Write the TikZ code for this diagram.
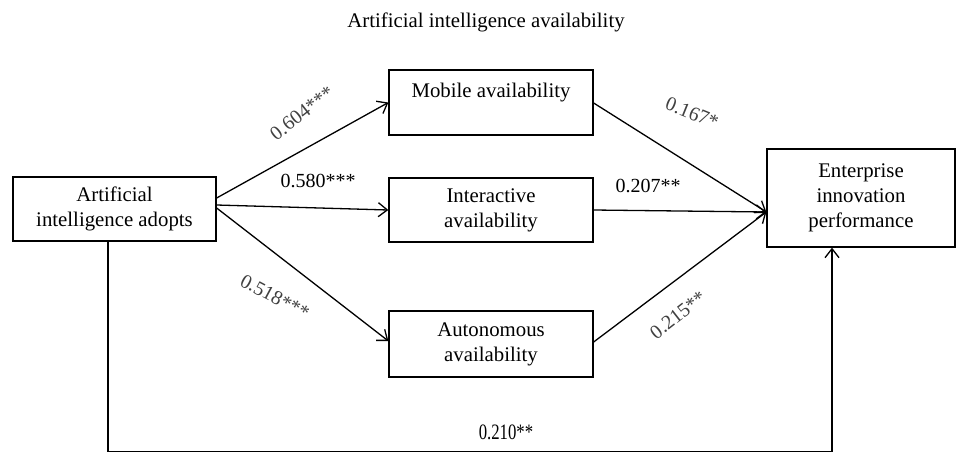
\documentclass[tikz,border=0pt]{standalone}
\usepackage{fontspec}
\setmainfont{Liberation Serif}
\usetikzlibrary{arrows.meta}

\begin{document}
\begin{tikzpicture}[x=1pt, y=-1pt,
  every node/.style={font=\fontsize{20.8}{25}\selectfont, inner sep=0pt},
  varbox/.style={draw, line width=1.3pt, align=center},
  path/.style={line width=1.3pt, -{Straight Barb[length=9pt, width=14pt, line width=1.3pt]}},
  coef/.style={font=\fontsize{20}{24}\selectfont},
  slanted coef/.style={coef, text=black!75},
  total coef/.style={font=\fontsize{22}{24}\selectfont, xscale=0.76}
]
\useasboundingbox (0,0) rectangle (957,453);

% title
\node (title) at (486,22) {Artificial intelligence availability};

% variables
\node[varbox, minimum width=203pt, minimum height=64pt] (ai) at (114.5,209)
  {Artificial\\intelligence adopts};
\node[varbox, minimum width=204pt, minimum height=65pt] (mob) at (491,102.5)
  {Mobile availability\\\mbox{}};
\node[varbox, minimum width=204pt, minimum height=64pt] (int) at (491,210)
  {Interactive\\availability};
\node[varbox, minimum width=204pt, minimum height=66pt] (aut) at (491,344)
  {Autonomous\\availability};
\node[varbox, minimum width=188pt, minimum height=98pt] (ent) at (861,198)
  {Enterprise\\innovation\\performance};

% paths from adoption to the mediators
\draw[path] ([yshift=11pt]ai.east) -- (mob.west);
\draw[path] ([yshift=4pt]ai.east) -- (int.west);
\draw[path] ([yshift=1pt]ai.east) -- ([yshift=3pt]aut.west);

% paths from the mediators to performance
\draw[path] ([yshift=-0.5pt]mob.east) -- ([yshift=-14pt]ent.west);
\draw[path] (int.east) -- ([yshift=-14pt]ent.west);
\draw[path] ([yshift=2pt]aut.east) -- ([yshift=-14pt]ent.west);

% direct effect
\coordinate (dl) at ([xshift=-6.5pt]ai.south |- 0,451.5);
\coordinate (dr) at ([xshift=-29pt]ent.south |- 0,451.5);
\draw[path] ([xshift=-6.5pt]ai.south) -- (dl) -- (dr) -- ([xshift=-29pt]ent.south);

% coefficients
\node[slanted coef, rotate=38] (c1) at (302,113) {0.604***};
\node[coef] (c2) at (318,181) {0.580***};
\node[slanted coef, rotate=-28] (c3) at (275,297) {0.518***};
\node[slanted coef, rotate=-22] (c4) at (692,113) {0.167*};
\node[coef] (c5) at (648,186) {0.207**};
\node[slanted coef, rotate=38] (c6) at (678,315) {0.215**};
\node[total coef] (c7) at (506,432) {0.210**};
\end{tikzpicture}
\end{document}
